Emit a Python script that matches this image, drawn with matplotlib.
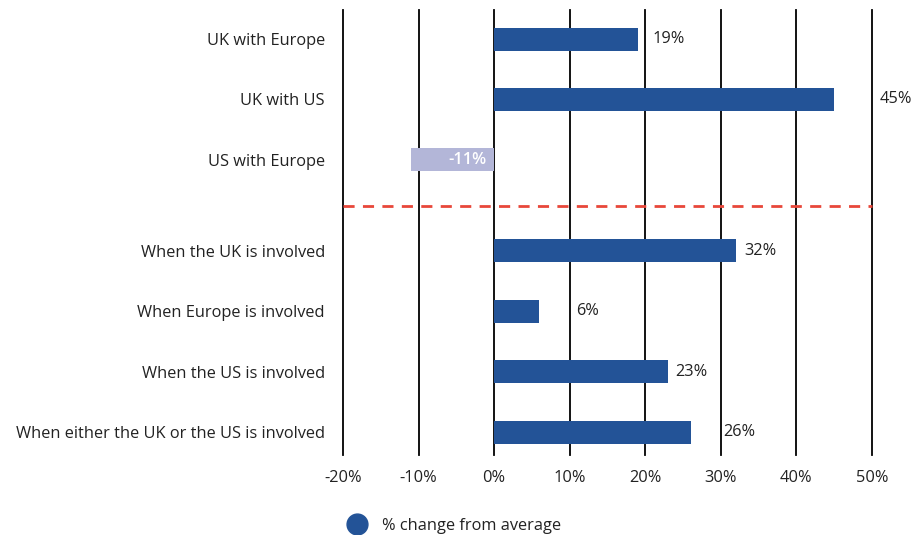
import numpy as np
import matplotlib.pyplot as plt
from matplotlib.lines import Line2D

# donnees
categories = ["UK with Europe", "UK with US", "US with Europe",
              "When the UK is involved", "When Europe is involved",
              "When the US is involved", "When either the UK or the US is involved"]
values = [19, 45, -11, 32, 6, 23, 26]
labels = ["19%", "45%", "-11%", "32%", "6%", "23%", "26%"]
rows = [0, 1, 2, 3.5, 4.5, 5.5, 6.5]
ticks = [-20, -10, 0, 10, 20, 30, 40, 50]
tick_labels = ["-20%", "-10%", "0%", "10%", "20%", "30%", "40%", "50%"]

# decalage des etiquettes (px)
label_dx = [15, 45, -8, 8, 37, 7, 33]

plt.rcParams['font.family'] = ['Open Sans', 'DejaVu Sans']

fig = plt.figure(figsize=(9.14, 5.35), dpi=100)
ax = fig.add_axes([343/914, 1-455/535, (872-343)/914, 445/535])

blue = '#235397'
light = '#b3b6d8'
colors = [light if v < 0 else blue for v in values]

for t in ticks:
    ax.axvline(t, color='black', lw=1.3, zorder=1, clip_on=False)

ax.barh(rows, values, height=0.38, color=colors, zorder=2)
ax.axhline(2.76, color='#e8473a', lw=2, ls=(0, (4, 3)), zorder=3, clip_on=False)

fs = 11.8
for r, v, lab, dx in zip(rows, values, labels, label_dx):
    if v < 0:
        ax.annotate(lab, (0, r), xytext=(dx*0.72, 0), textcoords='offset points',
                    ha='right', va='center', color='white', fontsize=fs, fontweight='semibold')
    else:
        ax.annotate(lab, (v, r), xytext=(dx*0.72, 0), textcoords='offset points',
                    ha='left', va='center', color='#222222', fontsize=fs)

ax.set_xlim(-20, 50)
ax.set_ylim(6.88, -0.48)
ax.set_yticks(rows)
ax.set_yticklabels(categories, fontsize=fs, color='#222222')
ax.set_xticks(ticks)
ax.set_xticklabels(tick_labels, fontsize=fs, color='#222222')
ax.tick_params(length=0)
ax.tick_params(axis='y', pad=13)
ax.tick_params(axis='x', pad=11)
for s in ax.spines.values():
    s.set_visible(False)

h = Line2D([], [], marker='o', ls='', color=blue, markersize=15)
fig.legend([h], ["% change from average"], loc='center left',
           bbox_to_anchor=(326/914, 1-526/535), frameon=False, fontsize=fs,
           handletextpad=0.5, labelcolor='#222222')

plt.savefig('out.png', dpi=100)
